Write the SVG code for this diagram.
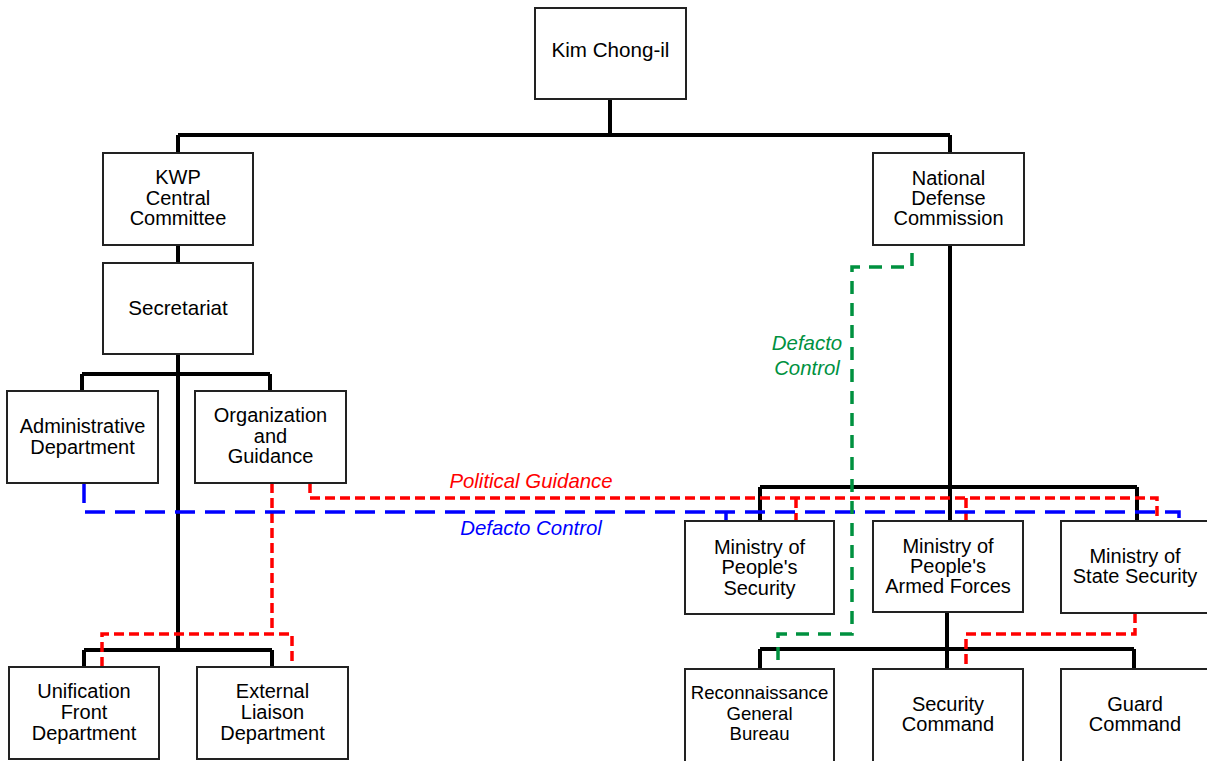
<svg xmlns="http://www.w3.org/2000/svg" width="1207" height="761" viewBox="0 0 1207 761">
<style>
.box{fill:#fff;stroke:#222;stroke-width:2}
.t{font-family:"Liberation Sans",Arial,sans-serif;font-size:20px;fill:#000;text-anchor:middle}
.s{font-size:18.6px}
.tree{fill:none;stroke:#000;stroke-width:4}
.red{fill:none;stroke:#f00;stroke-width:3.5;stroke-dasharray:10 5}
.blue{fill:none;stroke:#00f;stroke-width:3.5;stroke-dasharray:20 10}
.green{fill:none;stroke:#00913f;stroke-width:3.5;stroke-dasharray:13 9}
.lbl{font-family:"Liberation Sans",Arial,sans-serif;font-size:20.4px;font-style:italic;text-anchor:middle}
</style>
<rect width="1207" height="761" fill="#fff"/>
<g id="connectors">
<path class="tree" d="M610 99V135M178 135H950M178 135V153M950 135V153M178 245V263M178 354V650M82 374H270M82 374V391M270 374V391M84 650H272M84 650V667M272 650V667M950 245V487M760 487H1137M760 487V521M950 487V521M1137 487V521M947 612V649M760 649H1134M760 649V669M947 649V669M1134 649V669"/>
<path class="red" d="M272 483V634M102 667V634H292V667"/>
<path class="red" d="M310 483V498H1157V521M796 498V521M966 498V521"/>
<path class="blue" d="M84 483V512H1179V521M726 512V521"/>
<path class="green" d="M912 253V267H852V634H778V669"/>
<path class="red" d="M1135 613V634H966V669"/>
<text class="lbl" x="531" y="488" fill="#f00">Political Guidance</text>
<text class="lbl" x="531" y="535" fill="#00f">Defacto Control</text>
<text class="lbl" x="807" y="350" fill="#00913f">Defacto</text>
<text class="lbl" x="807" y="375" fill="#00913f">Control</text>
</g>
<g id="kim"><rect class="box" x="535" y="8" width="151" height="91"/><text class="t" x="610.5" y="57" style="font-size:20.6px">Kim Chong-il</text></g>
<g id="kwp"><rect class="box" x="103" y="153" width="150" height="92"/><text class="t" x="178" y="184">KWP</text><text class="t" x="178" y="205">Central</text><text class="t" x="178" y="225">Committee</text></g>
<g id="ndc"><rect class="box" x="873" y="153" width="151" height="92"/><text class="t" x="948.5" y="185">National</text><text class="t" x="948.5" y="205">Defense</text><text class="t" x="948.5" y="225">Commission</text></g>
<g id="secretariat"><rect class="box" x="103" y="263" width="150" height="91"/><text class="t" x="178" y="315" style="font-size:20.6px">Secretariat</text></g>
<g id="admin"><rect class="box" x="7" y="391" width="151" height="92"/><text class="t" x="82.5" y="433">Administrative</text><text class="t" x="82.5" y="454">Department</text></g>
<g id="org"><rect class="box" x="195" y="391" width="151" height="92"/><text class="t" x="270.5" y="422">Organization</text><text class="t" x="270.5" y="443">and</text><text class="t" x="270.5" y="463">Guidance</text></g>
<g id="unification"><rect class="box" x="9" y="667" width="150" height="92"/><text class="t" x="84" y="698">Unification</text><text class="t" x="84" y="719">Front</text><text class="t" x="84" y="740">Department</text></g>
<g id="external"><rect class="box" x="197" y="667" width="151" height="92"/><text class="t" x="272.5" y="698">External</text><text class="t" x="272.5" y="719">Liaison</text><text class="t" x="272.5" y="740">Department</text></g>
<g id="mps"><rect class="box" x="685" y="521" width="149" height="93"/><text class="t" x="759.5" y="554">Ministry of</text><text class="t" x="759.5" y="574">People's</text><text class="t" x="759.5" y="595">Security</text></g>
<g id="mpaf"><rect class="box" x="873" y="521" width="150" height="91"/><text class="t" x="948" y="553">Ministry of</text><text class="t" x="948" y="573">People's</text><text class="t" x="948" y="593">Armed Forces</text></g>
<g id="mss"><rect class="box" x="1061" y="521" width="150" height="92"/><text class="t" x="1135" y="563">Ministry of</text><text class="t" x="1135" y="583">State Security</text></g>
<g id="rgb"><rect class="box" x="685" y="669" width="149" height="95"/><text class="t s" x="759.5" y="699">Reconnaissance</text><text class="t s" x="759.5" y="720">General</text><text class="t s" x="759.5" y="740">Bureau</text></g>
<g id="security"><rect class="box" x="873" y="669" width="150" height="95"/><text class="t" x="948" y="711">Security</text><text class="t" x="948" y="731">Command</text></g>
<g id="guard"><rect class="box" x="1061" y="669" width="150" height="95"/><text class="t" x="1135" y="711">Guard</text><text class="t" x="1135" y="731">Command</text></g>
</svg>
